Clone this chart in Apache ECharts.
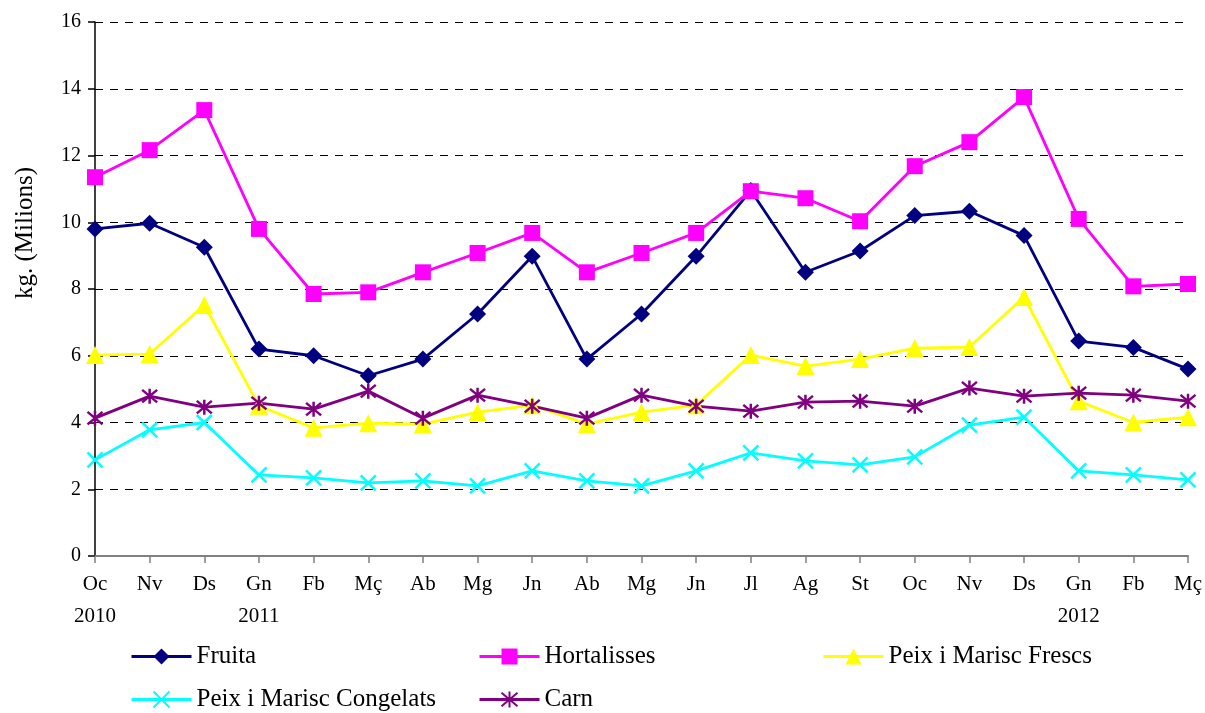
<!DOCTYPE html>
<html>
<head>
<meta charset="utf-8">
<script src="https://cdn.jsdelivr.net/npm/echarts@6/dist/echarts.min.js"></script>
<style>
  html, body { margin: 0; padding: 0; background: #fff; }
  #main { width: 1205px; height: 713px; }
</style>
</head>
<body>
<div id="main"></div>
<script>
// Months (Oct 2010 - Mar 2012), year shown under first month of each year
const months = ["Oc", "Nv", "Ds", "Gn", "Fb", "Mç", "Ab", "Mg", "Jn", "Ab", "Mg", "Jn", "Jl", "Ag", "St", "Oc", "Nv", "Ds", "Gn", "Fb", "Mç"];
const years = ["2010", "", "", "2011", "", "", "", "", "", "", "", "", "", "", "", "", "", "", "2012", "", ""];
const yTicks = [0, 2, 4, 6, 8, 10, 12, 14, 16];

const fruita = [9.8, 9.97, 9.25, 6.2, 6.0, 5.4, 5.9, 7.25, 8.98, 5.9, 7.25, 8.98, 10.95, 8.5, 9.14, 10.2, 10.33, 9.6, 6.44, 6.25, 5.6];
const hortalisses = [11.35, 12.16, 13.36, 9.8, 7.85, 7.9, 8.5, 9.08, 9.68, 8.5, 9.08, 9.68, 10.93, 10.72, 10.03, 11.68, 12.4, 13.75, 10.1, 8.08, 8.15];
const peixFrescs = [6.02, 6.05, 7.52, 4.5, 3.84, 3.98, 3.95, 4.31, 4.52, 3.95, 4.31, 4.52, 6.02, 5.69, 5.9, 6.23, 6.26, 7.76, 4.64, 4.0, 4.16];
const peixCongelats = [2.88, 3.78, 4.0, 2.43, 2.34, 2.19, 2.25, 2.1, 2.55, 2.25, 2.1, 2.55, 3.09, 2.85, 2.73, 2.97, 3.92, 4.16, 2.55, 2.43, 2.28];
const carn = [4.13, 4.79, 4.46, 4.58, 4.4, 4.94, 4.13, 4.82, 4.49, 4.13, 4.82, 4.49, 4.34, 4.61, 4.64, 4.49, 5.03, 4.79, 4.88, 4.82, 4.64];

const FONT = "'Liberation Serif', 'Times New Roman', serif";

const categories = months.map((m, i) => years[i] ? m + "\n" + years[i] : m);

var chartDom = document.getElementById("main");
var myChart = echarts.init(chartDom);

function makeSeries(name, data, color, symbol, size, stroke) {
    return {
        name: name,
        type: "line",
        data: data,
        symbol: symbol,
        symbolSize: size,
        showAllSymbol: true,
        lineStyle: { color: color, width: 2.8 },
        itemStyle: stroke
            ? { color: color, borderColor: color, borderWidth: 2.5 }
            : { color: color, borderWidth: 0 },
        emphasis: { disabled: true },
        z: 3
    };
}

const crossPath = "path://M0 0 L10 10 M10 0 L0 10";
const starPath = "path://M0 0 L10 10 M10 0 L0 10 M5 -1 L5 11";

// One legend per entry so they sit on the same column grid as the original
function legendAt(name, left, top) {
    return {
        data: [name],
        left: left,
        top: top,
        padding: 0,
        itemWidth: 60,
        itemHeight: 20,
        itemGap: 4,
        lineStyle: { width: 3 },
        textStyle: { fontFamily: FONT, fontSize: 25, color: "#000" }
    };
}

let option = {
    animation: false,
    backgroundColor: "#fff",
    grid: { left: 95, right: 13, top: 22, bottom: 157, containLabel: false },
    legend: [
        legendAt("Fruita", 130, 644),
        legendAt("Hortalisses", 478, 644),
        legendAt("Peix i Marisc Frescs", 822, 644),
        legendAt("Peix i Marisc Congelats", 130, 687),
        legendAt("Carn", 478, 687)
    ],
    graphic: [{
        type: "text",
        x: 25,
        y: 233,
        rotation: Math.PI / 2,
        style: {
            text: "kg. (Milions)",
            font: "25px " + FONT,
            fill: "#000",
            textAlign: "center",
            textVerticalAlign: "middle"
        }
    }],
    xAxis: {
        type: "category",
        data: categories,
        boundaryGap: false,
        axisLine: { lineStyle: { color: "#808080", width: 2 } },
        axisTick: { alignWithLabel: true, length: 7, lineStyle: { color: "#808080", width: 1.5 } },
        axisLabel: {
            interval: 0,
            fontFamily: FONT,
            fontSize: 21,
            color: "#000",
            lineHeight: 32,
            margin: 12
        },
        splitLine: { show: false }
    },
    yAxis: {
        type: "value",
        min: 0,
        max: 16,
        interval: 2,
        axisLine: { show: true, lineStyle: { color: "#000", width: 1.5 } },
        axisTick: { show: true, length: 7, lineStyle: { color: "#000", width: 1.5 } },
        axisLabel: {
            fontFamily: FONT,
            fontSize: 20,
            color: "#000",
            margin: 14,
            formatter: function (v) { return yTicks.indexOf(v) >= 0 ? String(v) : ""; }
        },
        splitLine: {
            show: true,
            lineStyle: { color: "#000", width: 1, type: [8, 7] }
        }
    },
    series: [
        makeSeries("Fruita", fruita, "#000080", "diamond", 17, false),
        makeSeries("Hortalisses", hortalisses, "#FF00FF", "rect", 16, false),
        makeSeries("Peix i Marisc Frescs", peixFrescs, "#FFFF00", "triangle", 18, false),
        makeSeries("Peix i Marisc Congelats", peixCongelats, "#00FFFF", crossPath, 15, true),
        makeSeries("Carn", carn, "#800080", starPath, 15, true)
    ]
};

option && myChart.setOption(option);
</script>
</body>
</html>
